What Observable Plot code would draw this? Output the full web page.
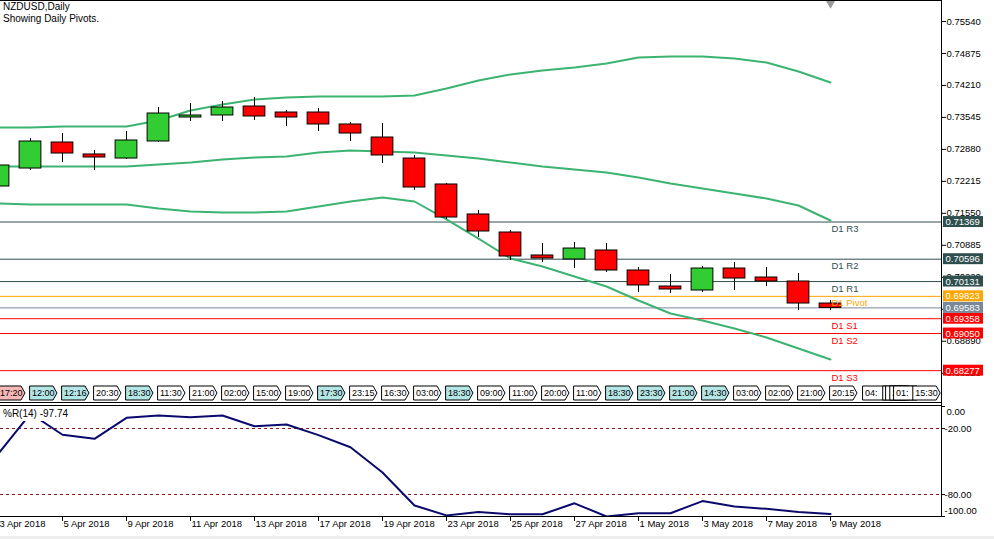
<!DOCTYPE html>
<html><head><meta charset="utf-8">
<script src="https://cdn.jsdelivr.net/npm/d3@7"></script>
<script src="https://cdn.jsdelivr.net/npm/@observablehq/plot@0.6"></script>
<style>
html,body{margin:0;padding:0;background:#fff;}
#c{position:relative;width:994px;height:539px;overflow:hidden;font-family:"Liberation Sans",Arial,sans-serif;}
#c > *{position:absolute;}
.t{font-size:10px;color:#000;left:3px;white-space:nowrap;line-height:12px;}
.ln{background:#000;}
</style></head><body><div id="c"></div>
<script>
// ---------- data ----------
const dates=["3 Apr","4 Apr","5 Apr","6 Apr","9 Apr","10 Apr","11 Apr","12 Apr","13 Apr","16 Apr","17 Apr","18 Apr","19 Apr","20 Apr","23 Apr","24 Apr","25 Apr","26 Apr","27 Apr","30 Apr","1 May","2 May","3 May","4 May","7 May","8 May","9 May"];
const opens=[0.72108,0.72482,0.73023,0.72774,0.7269,0.73044,0.73543,0.73585,0.73772,0.73647,0.73647,0.73398,0.73127,0.7269,0.7215,0.71526,0.71151,0.70673,0.7059,0.70777,0.70361,0.70028,0.69945,0.70402,0.70215,0.70132,0.69674];
const highs=[0.72649,0.73106,0.7321,0.72857,0.73252,0.73751,0.73834,0.73876,0.73959,0.73689,0.7373,0.73439,0.73418,0.72753,0.7217,0.71609,0.71193,0.70922,0.70943,0.70922,0.70423,0.70278,0.70444,0.70527,0.70423,0.70298,0.69737];
const lows=[0.72025,0.72441,0.72607,0.72441,0.7267,0.73023,0.7346,0.7346,0.73481,0.73356,0.73252,0.73044,0.72586,0.72025,0.71422,0.71047,0.70569,0.70527,0.70402,0.70319,0.69903,0.69882,0.69903,0.69945,0.70028,0.69529,0.69529];
const closes=[0.72545,0.73044,0.72794,0.72711,0.73065,0.73626,0.73585,0.73751,0.73564,0.73543,0.73398,0.7321,0.72753,0.72087,0.71463,0.71172,0.70652,0.7061,0.70818,0.70361,0.70049,0.69966,0.70402,0.70194,0.70132,0.69674,0.69583];
const upperBand=[0.73335,0.73335,0.73356,0.73356,0.73356,0.73481,0.73689,0.73814,0.73918,0.73959,0.7398,0.7398,0.7398,0.74001,0.74146,0.74313,0.74438,0.74521,0.74583,0.74666,0.74791,0.74812,0.74812,0.7477,0.74687,0.745,0.74271];
const middleBand=[0.72524,0.72524,0.72524,0.72524,0.72524,0.72566,0.72607,0.7267,0.72711,0.72732,0.72815,0.72857,0.72836,0.72815,0.72753,0.7269,0.72607,0.72524,0.72462,0.72399,0.72295,0.7217,0.72066,0.71962,0.71858,0.71713,0.71401];
const lowerBand=[0.71754,0.71734,0.71734,0.71734,0.71734,0.7165,0.71588,0.71567,0.71567,0.71588,0.71692,0.71796,0.71879,0.71796,0.71422,0.71026,0.7061,0.70444,0.70236,0.70028,0.69737,0.69466,0.69321,0.69154,0.68967,0.68738,0.6851];
const pivotNames=["D1 R3","D1 R2","D1 R1","D1 Pivot","D1 S1","D1 S2","D1 S3"];
const pivotValues=[0.71369,0.70596,0.70131,0.69823,0.69358,0.69050,0.68277];
const pivotColors=["#2F4F4F","#2F4F4F","#2F4F4F","#FFA500","#FF0000","#FF0000","#FF0000"];
const lastPrice=0.69583;
const priceTicks=[0.75540,0.74875,0.74210,0.73545,0.72880,0.72215,0.71550,0.70885,0.70220,0.69555,0.68890,0.68225];
const wprValues=[-42.7,-6.4,-25.7,-29.4,-10.3,-8.2,-9.7,-8.2,-17.9,-16.4,-26,-37,-60,-90,-99,-96,-98,-98,-88,-100,-97,-97,-86,-91,-93,-96,-97.74];
const wprTicks=[0,-20,-80,-100];
const wprLevels=[-20,-80];
const eventTimes=["17:20","12:00","12:16","20:30","18:30","11:30","21:00","02:00","15:00","19:00","17:30","23:15","16:30","03:00","18:30","09:00","11:00","20:00","11:00","18:30","23:30","21:00","14:30","03:00","02:00","21:00","20:15"];
const eventKinds=["p","c","c","w","c","w","w","w","w","w","c","w","w","w","c","w","w","w","w","c","c","c","c","w","w","w","w"];
const extraEventBars=[27.03,27.66,27.75,27.88,28.0,28.6];
const extraEventTimes=["04:","","","2","01:","15:30"];

// ---------- layout constants ----------
const W=994, MR=53, PW=W-MR;               // plot area width 941
const X0=0.0625, X1=X0+PW/32;               // 32 px per bar
const FONT="'Liberation Sans', Arial, sans-serif";
const GREEN="#32CD32", RED="#FF0000", BAND="#3CB371";
const c=document.getElementById("c");
function place(el,left,top){el.style.left=left+"px";el.style.top=top+"px";c.appendChild(el);}
function div(cls,left,top,w,h,bg){const d=document.createElement("div");if(cls)d.className=cls;d.style.width=w+"px";d.style.height=h+"px";if(bg)d.style.background=bg;place(d,left,top);return d;}

const bars=dates.map((d,i)=>({i,o:opens[i],h:highs[i],l:lows[i],c:closes[i]}));
const idx=dates.map((d,i)=>i);
const boxes=pivotValues.map((v,i)=>({v,col:pivotColors[i]})).concat([{v:lastPrice,col:"#778899"}]);
const bh=0.00114;

// ---------- main price panel ----------
const main=Plot.plot({
  width:W,height:403,marginLeft:0,marginRight:MR,marginTop:0,marginBottom:0,
  style:{fontFamily:FONT,fontSize:"9.5px",background:"transparent",overflow:"visible"},
  x:{domain:[X0,X1],axis:null},
  y:{domain:[0.675944,0.759768],axis:null},
  color:{type:"identity"},
  marks:[
    Plot.axisY(priceTicks,{anchor:"right",tickSize:4,tickPadding:1,tickFormat:d=>d.toFixed(5),label:null,fontSize:9.5,fill:"#000"}),
    Plot.ruleY(pivotValues,{y:d=>d,stroke:(d,i)=>pivotColors[i],strokeWidth:1}),
    Plot.ruleY([lastPrice],{y:d=>d,stroke:"#778899",strokeWidth:1}),
    Plot.line(upperBand,{x:(d,i)=>i,y:d=>d,stroke:BAND,strokeWidth:2,clip:true}),
    Plot.line(middleBand,{x:(d,i)=>i,y:d=>d,stroke:BAND,strokeWidth:2,clip:true}),
    Plot.line(lowerBand,{x:(d,i)=>i,y:d=>d,stroke:BAND,strokeWidth:2,clip:true}),
    Plot.ruleX(bars,{x:"i",y1:"l",y2:"h",stroke:"#000",strokeWidth:1,clip:true}),
    Plot.rect(bars,{x1:d=>d.i-0.34,x2:d=>d.i+0.34,y1:"o",y2:"c",fill:d=>d.c>=d.o?GREEN:RED,stroke:"#000",strokeWidth:1,clip:true}),
    Plot.text(pivotValues,{x:()=>dates.length-1,y:d=>d,text:(d,i)=>pivotNames[i],fill:(d,i)=>pivotColors[i],textAnchor:"start",dx:1,dy:7,fontSize:9.5}),
    Plot.rect(boxes,{x1:()=>X1+2/32,x2:()=>X1+42/32,y1:d=>d.v-bh,y2:d=>d.v+bh,fill:d=>d.col}),
    Plot.text(boxes,{x:()=>X1+4/32,y:d=>d.v,text:d=>d.v.toFixed(5),fill:"#fff",textAnchor:"start",fontSize:9.5}),
    Plot.dot([dates.length-1],{x:d=>d,frameAnchor:"top",symbol:"triangle",rotate:180,r:4,fill:"#999",stroke:"none",dy:2})
  ]
});
place(main,0,0);

// ---------- event time strip ----------
const events=eventTimes.map((t,i)=>({x:i,t,k:eventKinds[i]})).concat(extraEventBars.map((x,i)=>({x,t:extraEventTimes[i],k:"w"})));
const fillOf={p:"#F7B8B8",c:"#B4E6E6",w:"#FFFFFF"};
const stripMarks=[];
events.forEach(e=>{
  const pts=[{x:e.x,y1:1,y2:15},{x:e.x+23/32,y1:1,y2:15},{x:e.x+27/32,y1:8,y2:8}];
  stripMarks.push(Plot.areaY(pts,{x:"x",y1:"y1",y2:"y2",fill:fillOf[e.k],stroke:"#000",strokeWidth:1,curve:"linear",clip:true}));
  if(e.t) stripMarks.push(Plot.text([e],{x:d=>d.x+1.5/32,y:()=>8,text:"t",textAnchor:"start",fill:"#000",fontSize:9,clip:true}));
});
const strip=Plot.plot({
  width:PW,height:17,marginLeft:0,marginRight:0,marginTop:0,marginBottom:0,
  style:{fontFamily:FONT,fontSize:"9px",background:"transparent"},
  x:{domain:[X0,X1],axis:null},
  y:{domain:[0,17],range:[0,17],axis:null},
  marks:stripMarks
});
place(strip,0,385);

// ---------- %R panel ----------
const evenIdx=idx.filter(i=>i%2===0);
const wpr=Plot.plot({
  width:W,height:136,marginLeft:0,marginRight:MR,marginTop:3,marginBottom:23,
  style:{fontFamily:FONT,fontSize:"9.5px",background:"transparent",overflow:"visible"},
  x:{domain:[X0,X1],axis:null},
  y:{domain:[-100,0],axis:null},
  marks:[
    Plot.ruleY(wprLevels,{y:d=>d,stroke:"#8B1A1A",strokeDasharray:"3,3",strokeWidth:1}),
    Plot.line(wprValues,{x:(d,i)=>i,y:d=>d,stroke:"#0A0A6E",strokeWidth:2,clip:true}),
    Plot.ruleY(wprTicks,{y:d=>d,x1:()=>X1,x2:()=>X1+4/32,stroke:"#000"}),
    Plot.text(wprTicks.filter(v=>v>-100&&v<0),{y:d=>d,frameAnchor:"right",text:d=>d.toFixed(2),textAnchor:"start",dx:3,fontSize:9.5}),
    Plot.text([0],{y:d=>d,frameAnchor:"right",text:d=>d.toFixed(2),textAnchor:"start",dx:5,dy:5,fontSize:9.5}),
    Plot.text([-100],{y:d=>d,frameAnchor:"right",text:d=>d.toFixed(2),textAnchor:"start",dx:3,dy:-6,fontSize:9.5}),
    Plot.ruleX(evenIdx,{x:d=>d,y1:()=>-100,y2:()=>-104.5,stroke:"#000"}),
    Plot.text(evenIdx,{x:d=>d,frameAnchor:"bottom",text:i=>dates[i]+" 2018",textAnchor:"start",dx:1,dy:10,fontSize:9.5})
  ]
});
place(wpr,0,403);

// ---------- frame lines & labels ----------
div("ln",0,0,PW,1);
div("ln",PW,0,1,517);
div("ln",0,402,PW,1);
div("ln",0,405,PW,1);
div("ln",0,516,PW,1);
div(null,0,536,W,3,"#EEEEEE");
const t1=div("t",3,1,120,12);t1.textContent="NZDUSD,Daily";
const t2=div("t",3,13,140,12);t2.textContent="Showing Daily Pivots.";
const wl=div("t",0,408,62,13,"#fff");wl.style.left="0px";wl.style.paddingLeft="3px";wl.textContent="%R(14) -97.74";
</script></body></html>
